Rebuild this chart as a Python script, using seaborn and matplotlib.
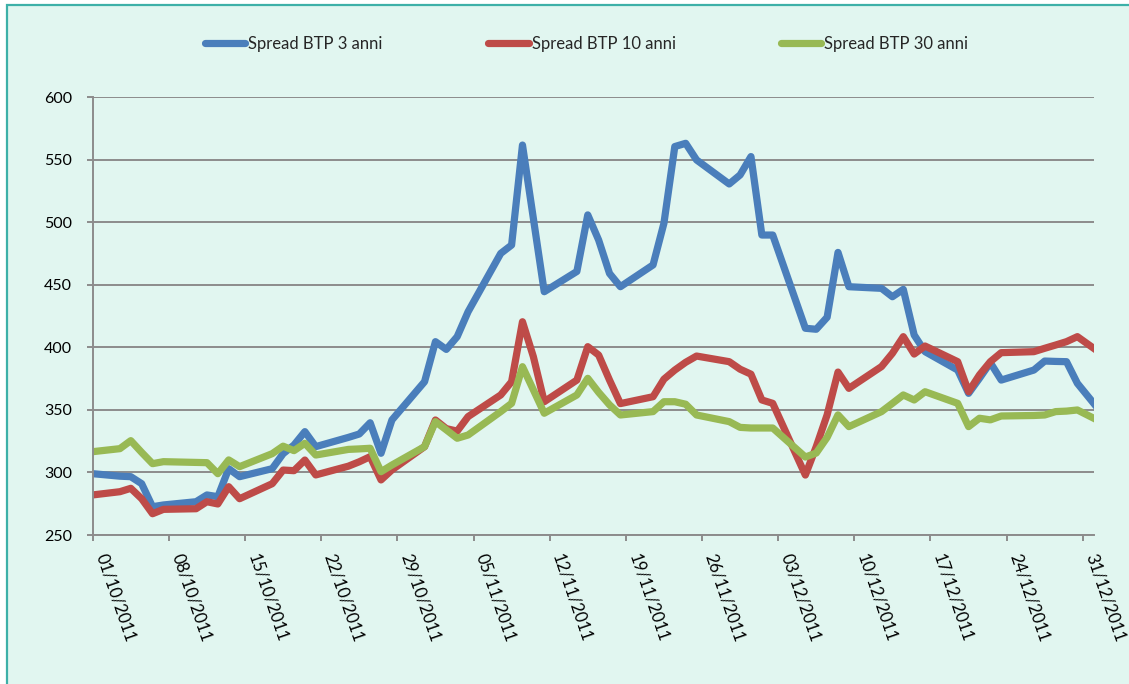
import matplotlib
matplotlib.use("Agg")
import matplotlib.pyplot as plt
import pandas as pd
import seaborn as sns
from matplotlib.lines import Line2D
from matplotlib.patches import Rectangle

# business days (first/last fall just outside the axis and get clipped)
dates = [
    "30/09/2011",
    "03/10/2011", "04/10/2011", "05/10/2011", "06/10/2011", "07/10/2011",
    "10/10/2011", "11/10/2011", "12/10/2011", "13/10/2011", "14/10/2011",
    "17/10/2011", "18/10/2011", "19/10/2011", "20/10/2011", "21/10/2011",
    "24/10/2011", "25/10/2011", "26/10/2011", "27/10/2011", "28/10/2011",
    "31/10/2011", "01/11/2011", "02/11/2011", "03/11/2011", "04/11/2011",
    "07/11/2011", "08/11/2011", "09/11/2011", "10/11/2011", "11/11/2011",
    "14/11/2011", "15/11/2011", "16/11/2011", "17/11/2011", "18/11/2011",
    "21/11/2011", "22/11/2011", "23/11/2011", "24/11/2011", "25/11/2011",
    "28/11/2011", "29/11/2011", "30/11/2011", "01/12/2011", "02/12/2011",
    "05/12/2011", "06/12/2011", "07/12/2011", "08/12/2011", "09/12/2011",
    "12/12/2011", "13/12/2011", "14/12/2011", "15/12/2011", "16/12/2011",
    "19/12/2011", "20/12/2011", "21/12/2011", "22/12/2011", "23/12/2011",
    "26/12/2011", "27/12/2011", "28/12/2011", "29/12/2011", "30/12/2011",
    "02/01/2012",
]

spread_3y = [
    299.4,
    297.0, 296.6, 291.0, 272.6, 274.0,
    276.6, 282.0, 280.6, 303.0, 296.6,
    303.0, 315.0, 321.9, 332.6, 320.6,
    328.0, 330.7, 339.7, 315.3, 341.9,
    372.5, 404.5, 398.3, 408.5, 428.4,
    475.0, 481.7, 561.6, 503.0, 444.4,
    460.6, 505.8, 485.7, 459.0, 448.4,
    465.8, 499.1, 560.4, 563.0, 549.7,
    530.5, 537.7, 552.4, 489.7, 489.7,
    415.2, 414.4, 424.0, 475.8, 448.4,
    447.1, 440.4, 446.3, 409.8, 396.5,
    381.8, 363.2, 375.2, 387.7, 373.8,
    381.8, 389.0, 388.7, 388.5, 371.2,
    339.2,
]

spread_10y = [
    281.5,
    284.6, 287.3, 279.0, 267.0, 270.5,
    271.0, 276.6, 274.8, 288.6, 279.0,
    291.0, 301.9, 301.4, 309.9, 298.0,
    305.0, 308.5, 312.6, 294.0, 302.0,
    320.6, 341.9, 335.0, 333.0, 344.6,
    361.9, 372.5, 420.4, 392.5, 356.5,
    373.8, 400.5, 393.8, 373.8, 355.0,
    360.5, 374.5, 381.8, 388.0, 393.0,
    388.5, 382.5, 378.5, 357.9, 355.2,
    297.9, 320.6, 346.0, 380.2, 367.2,
    384.6, 395.2, 408.5, 394.6, 401.0,
    388.5, 364.5, 377.9, 388.5, 395.7,
    396.5, 399.2, 401.8, 404.5, 408.5,
    389.9,
]

spread_30y = [
    316.1,
    319.0, 325.4, 316.0, 307.0, 308.6,
    308.0, 307.8, 299.0, 310.0, 304.6,
    315.0, 321.0, 317.4, 323.3, 313.9,
    318.4, 318.8, 319.3, 300.6, 305.9,
    320.6, 340.6, 334.0, 327.3, 329.9,
    348.6, 355.2, 384.5, 366.0, 347.3,
    361.9, 375.2, 364.0, 354.0, 345.9,
    348.6, 356.5, 356.5, 354.5, 345.9,
    340.6, 336.0, 335.5, 335.5, 335.5,
    312.3, 315.5, 328.0, 346.0, 336.6,
    348.6, 355.2, 361.9, 357.9, 364.5,
    355.2, 336.6, 343.3, 342.0, 345.1,
    345.5, 345.9, 348.6, 349.0, 349.9,
    336.7,
]

series_names = ["Spread BTP 3 anni", "Spread BTP 10 anni", "Spread BTP 30 anni"]
colors = ["#4A7EBB", "#BE4B48", "#98B954"]

# Excel date axis "between tick marks": each point sits in the middle of its day
df = pd.DataFrame({
    "data": pd.to_datetime(dates, dayfirst=True) + pd.Timedelta(hours=12),
    series_names[0]: spread_3y,
    series_names[1]: spread_10y,
    series_names[2]: spread_30y,
})
long_df = df.melt(id_vars="data", var_name="serie", value_name="spread")

sns.set_theme(style="white")
plt.rcParams["font.family"] = ["Lato", "DejaVu Sans"]

bg = "#E1F6F0"
grid_col = "#8C8C8C"

fig = plt.figure(figsize=(11.29, 6.84), dpi=100, facecolor="white")
fig.add_artist(Rectangle((7 / 1129, -0.05), 1.1, (684 - 5) / 684 + 0.05,
                         transform=fig.transFigure, facecolor=bg,
                         edgecolor="#3DB0A8", linewidth=1.6, zorder=-10))

ax = fig.add_axes([92.7 / 1129, 1 - 535 / 684, 1001 / 1129, 438 / 684])
ax.set_facecolor(bg)

sns.lineplot(data=long_df, x="data", y="spread", hue="serie",
             palette=dict(zip(series_names, colors)), hue_order=series_names,
             estimator=None, linewidth=5.2, legend=False, ax=ax)
for line in ax.lines:
    line.set_solid_joinstyle("round")
    line.set_solid_capstyle("round")

ax.set_xlim(pd.Timestamp("2011-10-01"), pd.Timestamp("2012-01-01"))
ax.set_ylim(250, 600)
ax.set_yticks(range(250, 601, 50))
ticks = pd.date_range("2011-10-01", "2011-12-31", freq="7D")
ax.set_xticks(ticks)
ax.set_xticklabels([t.strftime("%d/%m/%Y") for t in ticks], rotation=-71,
                   ha="left", va="bottom", rotation_mode="anchor")
ax.set_xlabel("")
ax.set_ylabel("")

ax.set_axisbelow(True)
ax.yaxis.grid(True, color=grid_col, linewidth=1.4)
ax.xaxis.grid(False)
for side in ["top", "right"]:
    ax.spines[side].set_visible(False)
for side in ["left", "bottom"]:
    ax.spines[side].set_color(grid_col)
    ax.spines[side].set_linewidth(1.4)
ax.tick_params(axis="both", bottom=True, left=True, length=4, width=1.4,
               color=grid_col, labelsize=11.5, labelcolor="black")
ax.tick_params(axis="x", pad=12, labelsize=12)
ax.tick_params(axis="y", pad=11)

handles = [Line2D([0], [0], color=c, linewidth=5.2, solid_capstyle="round")
           for c in colors]
fig.legend(handles, series_names, loc="center", bbox_to_anchor=(586.5 / 1129, 1 - 44 / 684),
           ncol=3, frameon=False, fontsize=12, handlelength=2.45,
           handletextpad=0.18, columnspacing=6.3)

fig.savefig("out.png", dpi=100, facecolor=fig.get_facecolor())
